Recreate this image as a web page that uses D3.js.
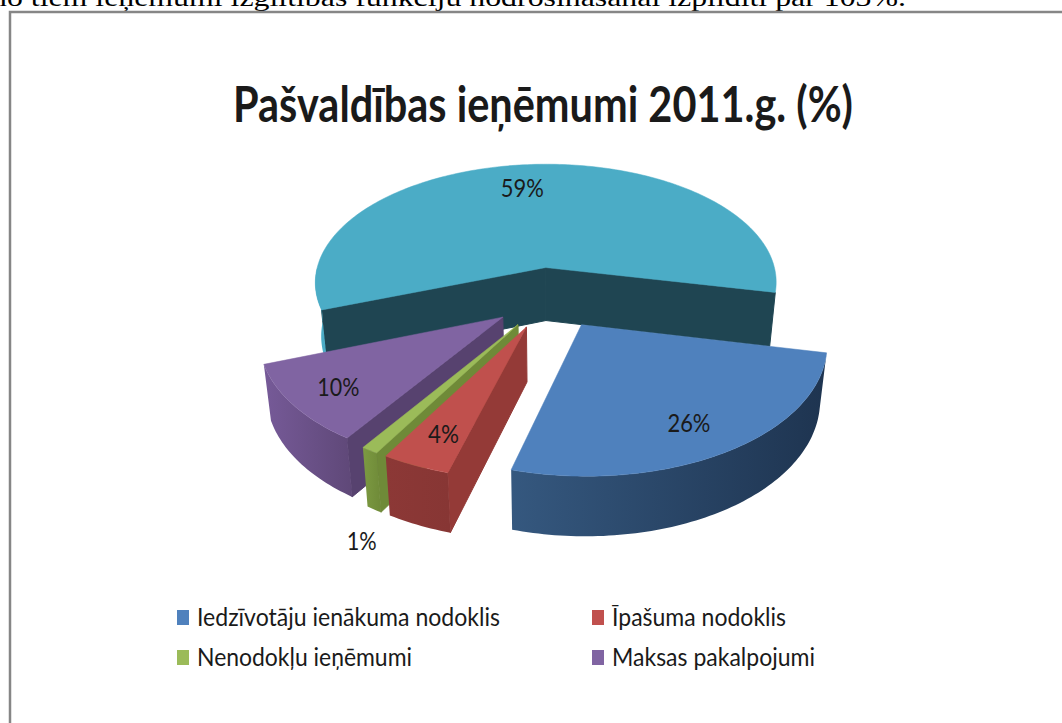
<!DOCTYPE html>
<html lang="lv">

<head>
    <meta charset="UTF-8">
    <title>Pašvaldības ieņēmumi 2011.g. (%)</title>
    <script src="https://d3js.org/d3.v7.min.js"></script>
    <style>
        body {
            margin: 0;
            background-color: #fff;
            overflow: hidden;
        }

        svg {
            display: block;
        }

        text {
            fill: #1a1a1a;
            font-family: Lato, 'Open Sans', sans-serif;
        }
    </style>
</head>

<body>
    <div id="chart"></div>

    <script>
        const categories = ["Iedzīvotāju ienākuma nodoklis", "Īpašuma nodoklis", "Nenodokļu ieņēmumi", "Maksas pakalpojumi", ""];
        const shares = [26, 4, 1, 10, 59];
        const shareLabels = ["26%", "4%", "1%", "10%", "59%"];
        const topColors = ["#4f81bd", "#c0504d", "#9bbb59", "#8064a2", "#4bacc6"];
        const cutColors = ["#1f3a57", "#943a37", "#6f8a38", "#57426f", "#1f4552"];
        const rimFrom = ["#35587f", "#8c3836", "#7c9a42", "#765a98", "#4bacc6"];
        const rimTo = ["#1e3450", "#873634", "#6f8a38", "#5f4878", "#4bacc6"];

        const width = 1062, height = 723;

        // pie as Excel draws it: tilted, slightly in perspective, every slice pulled out
        const cx = 550, cy = 297.5;
        const radiusX = 236, radiusY = 124;
        const perspective = 0.13;
        const explode = 0.25;
        const depth = 54;
        const rotation = 102 * Math.PI / 180;

        const svg = d3.select("#chart").append("svg")
            .attr("width", width)
            .attr("height", height);

        const defs = svg.append("defs");

        // page text cut off above the chart frame
        svg.append("text")
            .attr("x", -9)
            .attr("y", 6)
            .attr("textLength", 915)
            .attr("lengthAdjust", "spacingAndGlyphs")
            .style("font-family", "'Liberation Serif', serif")
            .style("font-size", "25px")
            .style("fill", "#000")
            .text("no tiem ieņēmumi izglītības funkciju nodrošināšanai izpildīti par 103%.");

        svg.append("path")
            .attr("d", `M10,${height}V12H${width}`)
            .attr("fill", "none")
            .attr("stroke", "#868686")
            .attr("stroke-width", 2.5);

        svg.append("text")
            .attr("x", 233)
            .attr("y", 122)
            .attr("textLength", 620)
            .attr("lengthAdjust", "spacingAndGlyphs")
            .style("font-size", "50px")
            .style("font-weight", 700)
            .text("Pašvaldības ieņēmumi 2011.g. (%)");

        const pie = d3.pie()
            .sort(null)
            .startAngle(rotation)
            .endAngle(rotation + 2 * Math.PI);

        const slices = pie(shares).map((d, i) => ({ ...d, i: i, mid: (d.startAngle + d.endAngle) / 2 }));

        // ground point of a slice -> screen, level 0 is the top face and 1 the bottom face
        function project(slice, angle, r, level) {
            const X = r * Math.sin(angle) + explode * Math.sin(slice.mid);
            const Y = -r * Math.cos(angle) - explode * Math.cos(slice.mid);
            const s = 1 / (1 - perspective * Y);
            const x = cx + radiusX * X * s;
            const y = cy + radiusY * Y * s;
            if (!level) return [x, y];
            return [cx + (x - cx) * 0.975, y + depth * (1 + (s - 1) * 0.6)];
        }

        function arcPoints(slice, from, to, level) {
            const n = Math.max(2, Math.ceil((to - from) / 0.02));
            return d3.range(n + 1).map(k => project(slice, from + (to - from) * k / n, 1, level));
        }

        const line = d3.line();

        // a cut wall shows only if the top face lies above its edge on screen
        function cutVisible(slice, angle, inward) {
            const a = project(slice, 0, 0, 0);
            const p = project(slice, angle, 1, 0);
            const q = project(slice, angle + inward * 0.05, 0.7, 0);
            const lineY = a[1] + (p[1] - a[1]) * (q[0] - a[0]) / (p[0] - a[0]);
            return q[1] < lineY;
        }

        function drawSlice(g, slice) {
            const i = slice.i;
            const start = slice.startAngle, end = slice.endAngle;

            [[start, 1], [end, -1]].forEach(([angle, inward]) => {
                if (!cutVisible(slice, angle, inward)) return;
                g.append("path")
                    .attr("d", line([
                        project(slice, 0, 0, 0), project(slice, angle, 1, 0),
                        project(slice, angle, 1, 1), project(slice, 0, 0, 1)
                    ]) + "Z")
                    .attr("fill", cutColors[i])
                    .attr("stroke", cutColors[i])
                    .attr("stroke-width", 1);
            });

            // outer wall only on the part of the rim that faces the viewer
            const from = Math.max(start, Math.PI / 2);
            const to = Math.min(end, 3 * Math.PI / 2);
            if (to > from) {
                const upper = arcPoints(slice, from, to, 0);
                const lower = arcPoints(slice, from, to, 1).reverse();
                const xs = d3.extent(upper.concat(lower), d => d[0]);
                const gradId = `rim${i}`;
                const grad = defs.append("linearGradient")
                    .attr("id", gradId)
                    .attr("gradientUnits", "userSpaceOnUse")
                    .attr("x1", xs[0]).attr("x2", xs[1])
                    .attr("y1", 0).attr("y2", 0);
                grad.append("stop").attr("offset", 0).attr("stop-color", rimFrom[i]);
                grad.append("stop").attr("offset", 1).attr("stop-color", rimTo[i]);
                g.append("path")
                    .attr("d", line(upper.concat(lower)) + "Z")
                    .attr("fill", `url(#${gradId})`);
            }

            g.append("path")
                .attr("d", line([project(slice, 0, 0, 0)].concat(arcPoints(slice, start, end, 0))) + "Z")
                .attr("fill", topColors[i])
                .attr("stroke", topColors[i])
                .attr("stroke-width", 0.5);
        }

        const pieGroup = svg.append("g");
        // back to front
        [4, 3, 2, 1, 0].forEach(i => drawSlice(pieGroup.append("g"), slices[i]));

        // data labels sit where Excel left them, the 1% one outside its thin slice
        const labelRadius = [0.72, 0.72, 1.18, 0.66, 0.78];
        const labelNudge = [[6, 10], [-6, 11.5], [23, 64.5], [-30, 13.5], [-12, 2.5]];
        const labelWidths = [43, 31, 30, 42, 43];
        svg.selectAll(".share")
            .data(slices)
            .enter()
            .append("text")
            .attr("class", "share")
            .attr("x", d => project(d, d.mid, labelRadius[d.i], 0)[0] + labelNudge[d.i][0] - labelWidths[d.i] / 2)
            .attr("y", d => project(d, d.mid, labelRadius[d.i], 0)[1] + labelNudge[d.i][1] + 9)
            .attr("textLength", d => labelWidths[d.i])
            .attr("lengthAdjust", "spacingAndGlyphs")
            .style("font-size", "25px")
            .text(d => shareLabels[d.i]);

        // legend, two columns
        const legendX = d3.scalePoint().domain([0, 1]).range([177, 592]);
        const legendY = d3.scalePoint().domain([0, 1]).range([617.5, 657.5]);
        const legendWidths = [303, 174, 215, 203];
        const legend = svg.selectAll(".legend")
            .data(categories.slice(0, 4))
            .enter()
            .append("g")
            .attr("class", "legend")
            .attr("transform", (d, i) => `translate(${legendX(i % 2)},${legendY(Math.floor(i / 2))})`);

        legend.append("rect")
            .attr("x", 0)
            .attr("y", -7.5)
            .attr("width", 12)
            .attr("height", 15)
            .attr("fill", (d, i) => topColors[i]);

        legend.append("text")
            .attr("x", 20)
            .attr("y", 8.5)
            .attr("textLength", (d, i) => legendWidths[i])
            .attr("lengthAdjust", "spacingAndGlyphs")
            .style("font-size", "25px")
            .text(d => d);
    </script>
</body>

</html>
